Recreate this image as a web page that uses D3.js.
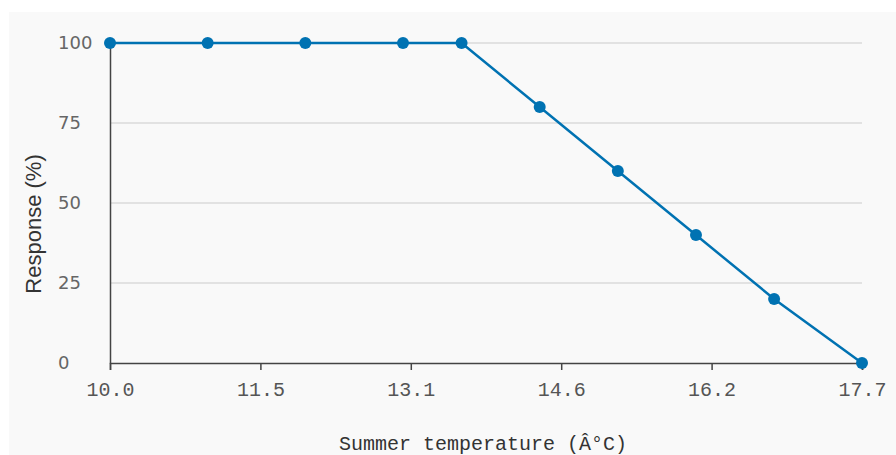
<!doctype html>
<html lang="en">
<head>
    <meta charset="utf-8">
    <title>Temperature response</title>
    <script src="https://d3js.org/d3.v7.min.js"></script>
    <style>
        body { margin: 0; background: #fff; }
        svg { display: block; }
        .grid line { stroke: #e2e2e2; stroke-width: 2; }
        .axis path, .axis line { stroke: #444; stroke-width: 1.5; }
        .xtick text { font: 20px "Liberation Mono", monospace; fill: #555; }
        .ytick text { font: 18px "DejaVu Sans", sans-serif; fill: #666; }
    </style>
</head>
<body>
    <div id="chart"></div>

    <script>
        // Data
        var temperatures = [10.0, 11.0, 12.0, 13.0, 13.6, 14.4, 15.2, 16.0, 16.8, 17.7];
        var responses    = [100, 100, 100, 100, 100, 80, 60, 40, 20, 0];
        var yTicks       = [0, 25, 50, 75, 100];
        var xTickCount   = 6;

        var xLabel = "Summer temperature (Â°C)";
        var yLabel = "Response (%)";

        // Graph size
        var width  = 896;
        var height = 455;
        var margin = { top: 43, right: 34, bottom: 92, left: 110 };

        var svg = d3.select("#chart")
            .append("svg")
            .attr("width", width)
            .attr("height", height);

        // Background panel
        svg.append("rect")
            .attr("x", 9)
            .attr("y", 12)
            .attr("width", width - 9)
            .attr("height", height - 12)
            .attr("fill", "#f9f9f9");

        var x = d3.scaleLinear()
            .domain([d3.min(temperatures), d3.max(temperatures)])
            .range([margin.left, width - margin.right]);

        var y = d3.scaleLinear()
            .domain([0, 100])
            .range([height - margin.bottom, margin.top]);

        // Gridlines
        svg.append("g")
            .attr("class", "grid")
            .selectAll("line")
            .data(yTicks.filter(function(d) { return d > 0; }))
            .enter()
            .append("line")
            .attr("x1", x.range()[0])
            .attr("x2", x.range()[1])
            .attr("y1", function(d) { return y(d); })
            .attr("y2", function(d) { return y(d); });

        // X ticks evenly spaced across the domain
        var xd = x.domain();
        var xTicks = d3.range(xTickCount).map(function(i) {
            return xd[0] + i * (xd[1] - xd[0]) / (xTickCount - 1);
        });

        var xAxis = svg.append("g")
            .attr("class", "axis xtick")
            .attr("transform", "translate(0," + y(0) + ")")
            .call(d3.axisBottom(x).tickValues(xTicks).tickFormat(d3.format(".1f")).tickSizeOuter(0).tickSize(7).tickPadding(12));
        xAxis.selectAll("text").attr("dy", "0.71em");

        // Y axis line
        svg.append("g")
            .attr("class", "axis")
            .attr("transform", "translate(" + x.range()[0] + ",0)")
            .call(d3.axisLeft(y).tickValues([]).tickSizeOuter(0));

        // Y tick labels (left aligned)
        svg.append("g")
            .attr("class", "ytick")
            .selectAll("text")
            .data(yTicks)
            .enter()
            .append("text")
            .attr("x", 58)
            .attr("y", function(d) { return y(d); })
            .attr("dy", "0.36em")
            .text(function(d) { return d; });

        // Axis titles
        svg.append("text")
            .attr("x", (x.range()[0] + x.range()[1]) / 2 - 3)
            .attr("y", 450)
            .attr("text-anchor", "middle")
            .style("font", "20px 'Liberation Mono', monospace")
            .attr("fill", "#333")
            .text(xLabel);

        svg.append("text")
            .attr("transform", "translate(41,224) rotate(-90)")
            .attr("text-anchor", "middle")
            .style("font", "22px 'Liberation Sans', sans-serif")
            .attr("fill", "#333")
            .text(yLabel);

        // Line and points
        var points = temperatures.map(function(t, i) { return [t, responses[i]]; });

        svg.append("path")
            .datum(points)
            .attr("fill", "none")
            .attr("stroke", "#0072b2")
            .attr("stroke-width", 2.5)
            .attr("d", d3.line()
                .x(function(d) { return x(d[0]); })
                .y(function(d) { return y(d[1]); }));

        svg.append("g")
            .selectAll("circle")
            .data(points)
            .enter()
            .append("circle")
            .attr("cx", function(d) { return x(d[0]); })
            .attr("cy", function(d) { return y(d[1]); })
            .attr("r", 6)
            .attr("fill", "#0072b2");
    </script>
</body>
</html>
